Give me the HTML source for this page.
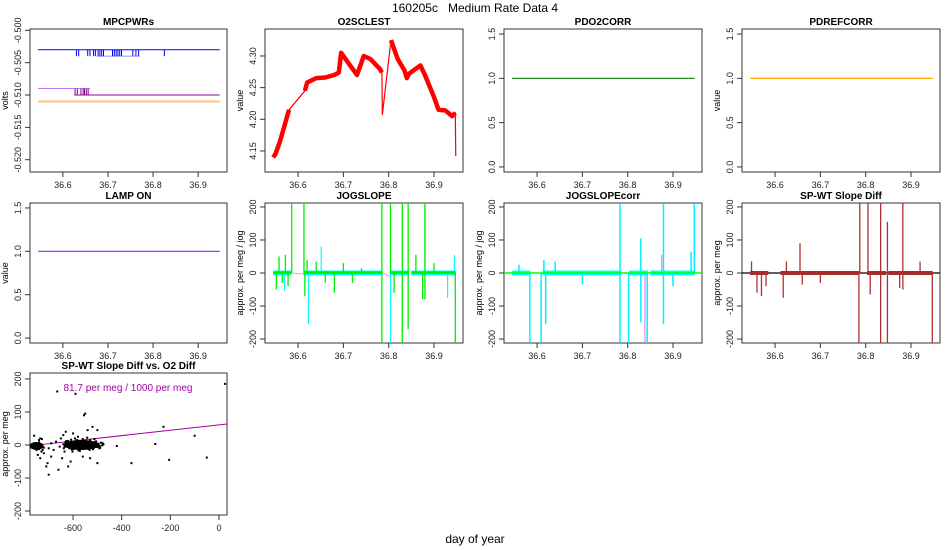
<!DOCTYPE html>
<html><head><meta charset="utf-8">
<style>
body{margin:0;background:#fff;}
svg{display:block;font-family:"Liberation Sans",sans-serif;}
</style></head>
<body>
<svg id="chart" width="950" height="550" viewBox="0 0 950 550">
<rect width="950" height="550" fill="#fff"/>
<text x="475" y="12" text-anchor="middle" font-size="12" style="white-space:pre">160205c   Medium Rate Data 4</text>
<text x="475" y="543" text-anchor="middle" font-size="12">day of year</text>
</svg>
<script>
// ---------- data ----------
const timeTicks = [36.6, 36.7, 36.8, 36.9];
const tStart = 36.545, tEnd = 36.948;
// MPCPWRs
const mpcBlueLevel = -0.503, mpcBlueDip = -0.504;
const mpcBlueDipTimes = [36.63,36.635,36.655,36.66,36.668,36.672,36.678,36.682,36.686,36.69,36.71,36.714,36.718,36.722,36.726,36.73,36.755,36.762,36.768,36.825];
const mpcPurpleEarly = -0.509, mpcPurpleLate = -0.510, mpcPurpleStep = 36.66;
const mpcPurpleDipTimes = [36.627,36.632,36.64,36.645,36.648,36.652,36.656];
const mpcOrangeLevel = -0.511;
// O2SCLEST
const o2Times = [36.545,36.55,36.56,36.57,36.58,36.615,36.62,36.64,36.66,36.68,36.69,36.695,36.71,36.72,36.73,36.745,36.76,36.78,36.785,36.786,36.805,36.82,36.835,36.84,36.845,36.87,36.88,36.9,36.91,36.925,36.94,36.947,36.948];
const o2Values = [4.14,4.145,4.165,4.19,4.215,4.245,4.258,4.265,4.266,4.27,4.274,4.305,4.29,4.28,4.27,4.30,4.295,4.28,4.274,4.207,4.325,4.295,4.277,4.265,4.272,4.285,4.27,4.235,4.215,4.214,4.205,4.21,4.142];
// flag values
const pdo2Value = 1.0, pdrefValue = 1.0, lampValue = 1.0;
// JOGSLOPE
const jogBandStart = [36.545,36.612,36.803,36.85];
const jogBandEnd = [36.585,36.786,36.845,36.948];
const jogGreenT = [36.552,36.558,36.565,36.572,36.578,36.586,36.613,36.615,36.62,36.64,36.66,36.68,36.7,36.72,36.74,36.785,36.785,36.804,36.812,36.83,36.83,36.843,36.843,36.86,36.875,36.88,36.88,36.9,36.947];
const jogGreenV = [-50,50,-30,55,-40,212,212,-70,40,35,-30,-60,30,-30,15,-212,212,212,-60,-212,212,212,-170,55,-80,212,-80,30,-212];
const jogCyanT = [36.57,36.623,36.651,36.804,36.88,36.93,36.945];
const jogCyanV = [-55,-155,80,-212,212,-75,55];
// JOGSLOPEcorr
const corrCyanT = [36.56,36.584,36.609,36.615,36.619,36.64,36.7,36.783,36.783,36.802,36.829,36.829,36.843,36.879,36.879,36.9,36.94,36.947];
const corrCyanV = [25,-212,-212,40,-155,35,-35,212,-212,-212,-150,105,-212,212,-155,-40,65,212];
const corrMagT = [36.838,36.875];
const corrMagV = [-212,55];
// SP-WT Slope Diff
const spT = [36.548,36.56,36.57,36.58,36.618,36.625,36.655,36.66,36.7,36.785,36.787,36.805,36.81,36.833,36.833,36.848,36.848,36.875,36.882,36.882,36.92,36.947];
const spV = [35,-60,-70,-40,-75,35,90,-35,-30,-212,212,212,-65,212,-212,-212,155,-45,212,-50,35,-212];
// scatter
const scX = [-770,-765,-760,-755,-750,-745,-740,-735,-730,-725,-720,-760,-750,-740,-730,-745,-735,-720,-710,-700,-705,-690,-760,-740,-735,-728,-700,-690,-680,-670,-660,-665,-655,-650,-645,-640,-635,-630,-620,-610,-600,-590,-580,-560,-555,-550,-540,-530,-520,-500,-500,-420,-360,-262,-228,-205,-100,-50,25,
 -640,-635,-630,-625,-620,-615,-610,-605,-600,-595,-590,-585,-580,-575,-570,-565,-560,-555,-550,-545,-540,-535,-530,-525,-520,-515,-510,-505,-500,-495,-490,-485,-480,-475,
 -638,-628,-618,-608,-598,-588,-578,-568,-558,-548,-538,-528,-518,-508,-498,-488,-478,-632,-612,-592,-572,-552,-532,-512,-492,-602,-582,-562,-542,-522];
const scY = [-5,0,-10,-3,-8,2,-12,-5,0,-15,-8,5,-15,8,-20,-30,-40,-25,-65,-90,-55,-35,28,15,20,18,-10,5,-15,10,-75,162,-5,20,-40,30,-20,40,-65,-50,35,155,25,-35,90,95,45,-40,55,45,-55,-3,-55,3,55,-45,28,-38,185,
 2,-6,8,-3,12,-10,4,-14,9,0,-8,15,3,-11,6,-4,18,-7,10,-2,5,-12,14,-5,8,-9,3,11,-6,4,-3,7,-1,2,
 -10,12,-4,16,-12,6,-16,9,-7,13,-9,4,-13,10,-5,-8,5,8,-2,20,-18,2,-15,18,-10,-20,14,-6,22,-3];
const fitSlope = 0.0817, fitIntercept = 61;
const scXTicks = [-600,-400,-200,0];
const scYTicks = [-200,-100,0,100,200];
const jogYTicks = [-200,-100,0,100,200];
const flagYTicks = [0,0.5,1.0,1.5];
const mpcYTicks = [-0.520,-0.515,-0.510,-0.505,-0.500];
const o2YTicks = [4.15,4.20,4.25,4.30];

// ---------- helpers ----------
const svg = document.getElementById('chart');
const NS = 'http://www.w3.org/2000/svg';
function el(tag, attrs){ const e=document.createElementNS(NS,tag); for(const k in attrs) e.setAttribute(k,attrs[k]); svg.appendChild(e); return e; }
function scale(d0,d1,r0,r1){ return v => r0+(v-d0)/(d1-d0)*(r1-r0); }

function panel(o){
  const sx=scale(o.xd[0],o.xd[1],o.x0,o.x1), sy=scale(o.yd[0],o.yd[1],o.y1,o.y0);
  const b=el('rect',{x:o.x0,y:o.y0,width:o.x1-o.x0,height:o.y1-o.y0,fill:'none',stroke:'#333','stroke-width':1});
  
  
  const t=el('text',{x:(o.x0+o.x1)/2,y:o.y0-4,'text-anchor':'middle','font-size':10,'font-weight':'bold'});
  t.textContent=o.title;
  
  
  o.xt.forEach(v=>{
    const X=sx(v);
    const tk=el('line',{x1:X,x2:X,y1:o.y1,y2:o.y1+5,stroke:'#333'});
    
    
    const tl=el('text',{x:X,y:o.y1+16,'text-anchor':'middle','font-size':9,fill:'#222'});
    tl.textContent=o.xf?o.xf(v):v;
    
    
  });
  o.yt.forEach(v=>{
    const Y=sy(v);
    const tk=el('line',{x1:o.x0-5,x2:o.x0,y1:Y,y2:Y,stroke:'#333'});
    
    
    const tl=el('text',{x:o.x0-9,y:Y,'text-anchor':'middle','font-size':9,fill:'#222',transform:`rotate(-90 ${o.x0-9} ${Y})`});
    tl.textContent=o.yf?o.yf(v):v;
    
    
  });
  const yl=el('text',{x:o.x0-22,y:(o.y0+o.y1)/2,'text-anchor':'middle','font-size':9,transform:`rotate(-90 ${o.x0-22} ${(o.y0+o.y1)/2})`});
  yl.textContent=o.ylab;
  
  
  return {sx,sy};
}
function line(x1,y1,x2,y2,c,w,name,op){
  const l=el('line',{x1,y1,x2,y2,stroke:c,'stroke-width':w||1,'stroke-opacity':op||1});
  
  
  return l;
}
const TD=[36.527,36.964];
const cols=[[30,227],[265,463],[504,702],[742,940]];
const rows=[[29,172],[203,343],[373,515]];

// MPCPWRs
{ const p=panel({name:'mpcpwrs',title:'MPCPWRs',x0:cols[0][0],x1:cols[0][1],y0:rows[0][0],y1:rows[0][1],xd:TD,yd:[-0.5219,-0.4998],xt:timeTicks,yt:mpcYTicks,yf:v=>v.toFixed(3),ylab:'volts'});
  line(p.sx(tStart),p.sy(mpcBlueLevel),p.sx(tEnd),p.sy(mpcBlueLevel),'#0000ff',1,'mpc-blue-line');
  line(p.sx(36.675),p.sy(mpcBlueDip),p.sx(36.77),p.sy(mpcBlueDip),'#6666ff',1,'mpc-blue-dip-line',0.7);
  mpcBlueDipTimes.forEach(t=>line(p.sx(t),p.sy(mpcBlueLevel),p.sx(t),p.sy(mpcBlueDip),'#0000ff',1,'mpc-blue-dip'));
  line(p.sx(tStart),p.sy(mpcPurpleEarly),p.sx(mpcPurpleStep),p.sy(mpcPurpleEarly),'#a020f0',1,'mpc-purple-early',0.6);
  line(p.sx(36.625),p.sy(mpcPurpleLate),p.sx(tEnd),p.sy(mpcPurpleLate),'#9400a0',1,'mpc-purple-line');
  mpcPurpleDipTimes.forEach(t=>line(p.sx(t),p.sy(mpcPurpleEarly),p.sx(t),p.sy(mpcPurpleLate),'#800080',1,'mpc-purple-dip'));
  line(p.sx(tStart),p.sy(mpcOrangeLevel),p.sx(tEnd),p.sy(mpcOrangeLevel),'#ffc080',2,'mpc-orange-line');
}
// O2SCLEST
{ const p=panel({name:'o2sclest',title:'O2SCLEST',x0:cols[1][0],x1:cols[1][1],y0:rows[0][0],y1:rows[0][1],xd:TD,yd:[4.1168,4.3426],xt:timeTicks,yt:o2YTicks,yf:v=>v.toFixed(2),ylab:'value'});
  const pts=o2Times.map((t,i)=>p.sx(t)+','+p.sy(o2Values[i])).join(' ');
  const pl=el('polyline',{points:pts,fill:'none',stroke:'#ff0000','stroke-width':1.2});
  
  
  [[0,5],[5,19],[20,32]].forEach(([a,b])=>{
    const pp=o2Times.slice(a,b).map((t,i)=>p.sx(t)+','+p.sy(o2Values[a+i])).join(' ');
    const band=el('polyline',{points:pp,fill:'none',stroke:'#ff0000','stroke-width':4.5,'stroke-linejoin':'round'});
    
    
  });
}
// flag panels
[['pdo2corr','PDO2CORR',cols[2],rows[0],pdo2Value,'#228b22',''],
 ['pdrefcorr','PDREFCORR',cols[3],rows[0],pdrefValue,'#ffa500','value'],
 ['lamp-on','LAMP ON',cols[0],rows[1],lampValue,'#a020f0','value']].forEach(f=>{
  const p=panel({name:f[0],title:f[1],x0:f[2][0],x1:f[2][1],y0:f[3][0],y1:f[3][1],xd:TD,yd:[-0.057,1.557],xt:timeTicks,yt:flagYTicks,yf:v=>v.toFixed(1),ylab:f[6]});
  line(p.sx(tStart),p.sy(f[4]),p.sx(tEnd),p.sy(f[4]),f[5],1.2,f[0]+'-line');
});
// JOGSLOPE
{ const p=panel({name:'jogslope',title:'JOGSLOPE',x0:cols[1][0],x1:cols[1][1],y0:rows[1][0],y1:rows[1][1],xd:TD,yd:[-212,212],xt:timeTicks,yt:jogYTicks,ylab:'approx. per meg / jog'});
  jogCyanT.forEach((t,i)=>line(p.sx(t),p.sy(0),p.sx(t),p.sy(jogCyanV[i]),'#00ffff',1.2,'jogslope-cyan-spike'));
  line(p.sx(36.585),p.sy(0),p.sx(36.612),p.sy(-3),'#ff88ff',1,'jogslope-magenta-gap');
  line(p.sx(36.786),p.sy(0),p.sx(36.803),p.sy(-10),'#ff88ff',1,'jogslope-magenta-gap');
  jogBandStart.forEach((s,i)=>{line(p.sx(s),p.sy(0),p.sx(jogBandEnd[i]),p.sy(0),'#00ffff',5,'jogslope-cyan-band');
    line(p.sx(s),p.sy(1),p.sx(jogBandEnd[i]),p.sy(1),'#00ee00',2.5,'jogslope-green-band');});
  jogGreenT.forEach((t,i)=>line(p.sx(t),p.sy(0),p.sx(t),p.sy(jogGreenV[i]),'#00ee00',1.3,'jogslope-green-spike'));
}
// JOGSLOPEcorr
{ const p=panel({name:'jogslopecorr',title:'JOGSLOPEcorr',x0:cols[2][0],x1:cols[2][1],y0:rows[1][0],y1:rows[1][1],xd:TD,yd:[-212,212],xt:timeTicks,yt:jogYTicks,ylab:'approx. per meg / jog'});
  corrMagT.forEach((t,i)=>line(p.sx(t),p.sy(0),p.sx(t),p.sy(corrMagV[i]),'#ee82ee',1.2,'jogslopecorr-magenta-spike'));
  jogBandStart.forEach((s,i)=>line(p.sx(s),p.sy(0),p.sx(jogBandEnd[i]),p.sy(0),'#00ffff',5,'jogslopecorr-cyan-band'));
  corrCyanT.forEach((t,i)=>line(p.sx(t),p.sy(0),p.sx(t),p.sy(corrCyanV[i]),'#00f0ff',1.5,'jogslopecorr-cyan-spike'));
  line(cols[2][0],p.sy(0),cols[2][1],p.sy(0),'#00ff00',1.5,'jogslopecorr-zero-line');
}
// SP-WT Slope Diff
{ const p=panel({name:'spwt-slope-diff',title:'SP-WT Slope Diff',x0:cols[3][0],x1:cols[3][1],y0:rows[1][0],y1:rows[1][1],xd:TD,yd:[-212,212],xt:timeTicks,yt:jogYTicks,ylab:'approx. per meg'});
  line(cols[3][0],p.sy(0),cols[3][1],p.sy(0),'#000',1.2,'spwt-zero-line');
  jogBandStart.forEach((s,i)=>line(p.sx(s),p.sy(0),p.sx(jogBandEnd[i]),p.sy(0),'#a52a2a',4,'spwt-band'));
  spT.forEach((t,i)=>line(p.sx(t),p.sy(0),p.sx(t),p.sy(spV[i]),'#b03030',1.3,'spwt-spike'));
}
// scatter
{ const p=panel({name:'scatter',title:'SP-WT Slope Diff vs. O2 Diff',x0:cols[0][0],x1:cols[0][1],y0:rows[2][0],y1:rows[2][1],xd:[-777,33],yd:[-212,218],xt:scXTicks,yt:scYTicks,ylab:'approx. per meg'});
  line(p.sx(-777),p.sy(fitSlope*-777+fitIntercept),p.sx(33),p.sy(fitSlope*33+fitIntercept),'#a000a0',1,'scatter-fit-line');
  scX.forEach((x,i)=>{
    const r=el('rect',{x:p.sx(x)-1,y:p.sy(scY[i])-1,width:2,height:2,fill:'#000'});
    
    
  });
  const blob=el('ellipse',{cx:p.sx(-565),cy:p.sy(0),rx:18,ry:5,fill:'#000'});
  
  
  const blob2=el('ellipse',{cx:p.sx(-750),cy:p.sy(-3),rx:7,ry:4,fill:'#000'});
  
  
  const ft=el('text',{x:128,y:391,'text-anchor':'middle','font-size':10,fill:'#a000a0'});
  ft.textContent=(fitSlope*1000).toFixed(1)+' per meg / 1000 per meg';
  
  
}
</script>
</body></html>
